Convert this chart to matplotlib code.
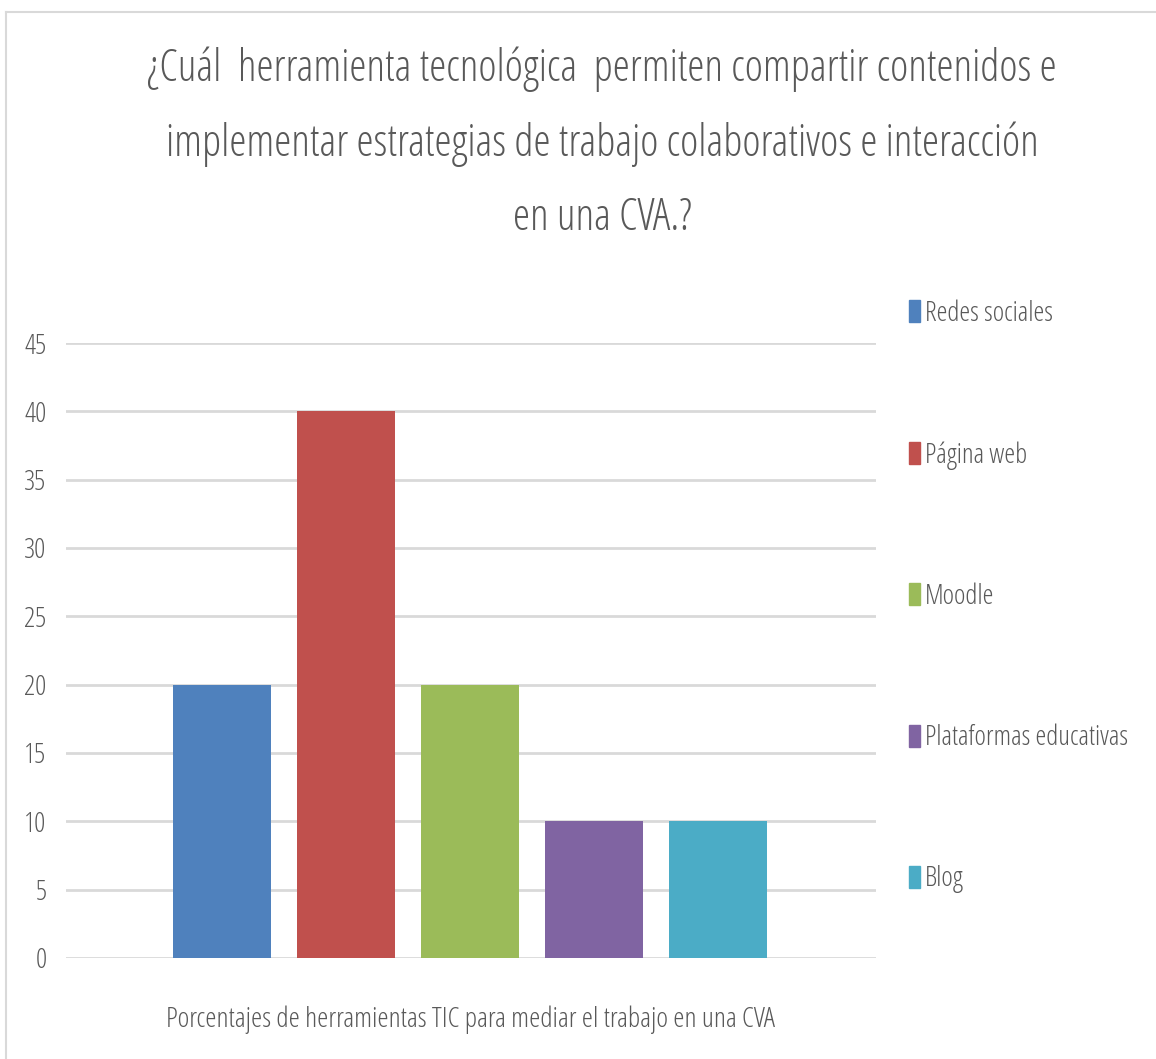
import matplotlib.pyplot as plt
from matplotlib.patches import Patch

plt.rcParams['font.family'] = ['Open Sans', 'DejaVu Sans']
plt.rcParams['font.stretch'] = 'condensed'
plt.rcParams['font.weight'] = 'light'

categorias = ["Redes sociales", "Página web", "Moodle", "Plataformas educativas", "Blog"]
valores = [20, 40, 20, 10, 10]
colores = ["#4F81BD", "#C0504D", "#9BBB59", "#8064A2", "#4BACC6"]
yticks = [0, 5, 10, 15, 20, 25, 30, 35, 40, 45]
etiqueta_x = "Porcentajes de herramientas TIC para mediar el trabajo en una CVA"
titulo = ["¿Cuál  herramienta tecnológica  permiten compartir contenidos e",
          "implementar estrategias de trabajo colaborativos e interacción",
          "en una CVA.?"]

gris = "#595959"
W, H = 1156, 1059
fig = plt.figure(figsize=(W / 100, H / 100), dpi=100)

# marco del grafico
fig.add_artist(plt.Line2D([6 / W, 6 / W], [0, 1 - 12 / H], color="#D9D9D9", lw=1.5))
fig.add_artist(plt.Line2D([6 / W, 1], [1 - 12 / H, 1 - 12 / H], color="#D9D9D9", lw=1.5))

ax = fig.add_axes([66 / W, 1 - 958 / H, (876 - 66) / W, (958 - 343) / H])
x = list(range(len(valores)))
ax.bar(x, valores, width=0.79, color=colores, zorder=3)
ax.set_xlim(-1.26, 5.27)
ax.set_ylim(0, 45)
ax.set_yticks(yticks)
ax.set_xticks([2])
ax.set_xticklabels([etiqueta_x])
ax.tick_params(axis="y", length=0, pad=14, labelsize=20, labelcolor=gris)
ax.tick_params(axis="x", length=0, pad=34, labelsize=20.3, labelcolor=gris)
ax.grid(axis="y", color="#D9D9D9", lw=2, zorder=0)
for s in ax.spines.values():
    s.set_visible(False)

for i, linea in enumerate(titulo):
    fig.text(602 / W, 1 - (69 + 75 * i) / H, linea, ha="center", va="center",
             fontsize=31.5, color=gris)

handles = [Patch(color=c, label=l) for c, l in zip(colores, categorias)]
fig.legend(handles=handles, loc="upper left", bbox_to_anchor=(884 / W, 1 - 275 / H),
           frameon=False, fontsize=19.8, labelcolor=gris, labelspacing=4.12,
           handlelength=0.4, handleheight=0.85, handletextpad=0.2)

fig.savefig("out.png", dpi=100)
